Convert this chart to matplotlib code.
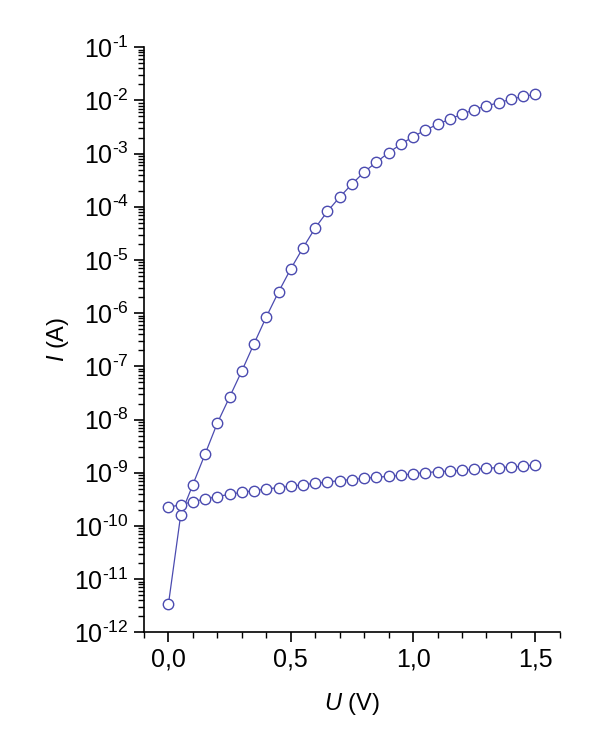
import matplotlib
matplotlib.use("Agg")
import matplotlib.pyplot as plt
import matplotlib.ticker as ticker
import numpy as np

plt.rcParams['font.family'] = ['Liberation Sans', 'DejaVu Sans']
plt.rcParams['mathtext.fontset'] = 'custom'
plt.rcParams['mathtext.rm'] = 'Liberation Sans'
plt.rcParams['mathtext.it'] = 'Liberation Sans:italic'
plt.rcParams['mathtext.default'] = 'regular'

# Data
voltage = [0.00, 0.05, 0.10, 0.15, 0.20, 0.25, 0.30, 0.35, 0.40, 0.45,
           0.50, 0.55, 0.60, 0.65, 0.70, 0.75, 0.80, 0.85, 0.90, 0.95,
           1.00, 1.05, 1.10, 1.15, 1.20, 1.25, 1.30, 1.35, 1.40, 1.45, 1.50]

current_forward = [3.4e-12, 1.6e-10, 6.0e-10, 2.26e-9, 8.6e-9, 2.65e-8, 8.2e-8, 2.67e-7,
                   8.5e-7, 2.5e-6, 6.8e-6, 1.69e-5, 4.0e-5, 8.2e-5, 1.52e-4, 2.67e-4,
                   4.5e-4, 6.9e-4, 1.04e-3, 1.5e-3, 2.08e-3, 2.77e-3, 3.54e-3, 4.45e-3,
                   5.5e-3, 6.7e-3, 7.9e-3, 9.05e-3, 1.05e-2, 1.19e-2, 1.3e-2]

current_reverse = [2.24e-10, 2.5e-10, 2.86e-10, 3.2e-10, 3.56e-10, 3.93e-10, 4.28e-10, 4.6e-10,
                   4.94e-10, 5.25e-10, 5.55e-10, 5.97e-10, 6.3e-10, 6.7e-10, 7.1e-10, 7.45e-10,
                   7.85e-10, 8.2e-10, 8.55e-10, 8.9e-10, 9.6e-10, 1.0e-9, 1.05e-9, 1.07e-9,
                   1.11e-9, 1.16e-9, 1.21e-9, 1.25e-9, 1.28e-9, 1.32e-9, 1.42e-9]

x_ticks = [0.0, 0.5, 1.0, 1.5]
x_tick_labels = ['0,0', '0,5', '1,0', '1,5']

color = '#4b4bb0'

fig = plt.figure(figsize=(6, 7.5), dpi=100)
ax = fig.add_axes([0.24, 0.157, 0.693, 0.78])

for series in (current_forward, current_reverse):
    ax.plot(voltage, series, color=color, lw=0.9, marker='o', ms=7.5,
            mfc='white', mec=color, mew=1.0)

ax.set_yscale('log')
ax.set_ylim(1e-12, 1e-1)
ax.set_xlim(-0.1, 1.6)


def log_label(v, pos):
    e = int(round(np.log10(v)))
    return '10$^{\u2010%d}$' % (-e)


ax.yaxis.set_major_locator(ticker.LogLocator(base=10, numticks=20))
ax.yaxis.set_major_formatter(ticker.FuncFormatter(log_label))
ax.yaxis.set_minor_locator(ticker.LogLocator(base=10, subs=np.arange(2, 10), numticks=20))
ax.yaxis.set_minor_formatter(ticker.NullFormatter())

ax.set_xticks(x_ticks)
ax.set_xticklabels(x_tick_labels)
ax.xaxis.set_minor_locator(ticker.MultipleLocator(0.1))

ax.spines['top'].set_visible(False)
ax.spines['right'].set_visible(False)
for s in ('left', 'bottom'):
    ax.spines[s].set_linewidth(1.2)

ax.tick_params(which='major', direction='out', length=7, width=1.2, labelsize=18, pad=4)
ax.tick_params(which='minor', direction='out', length=4, width=1.0)

ax.set_xlabel(r'$\mathit{U}$ (V)', fontsize=17, labelpad=14)
ax.set_ylabel(r'$\mathit{I}$ (A)', fontsize=17, labelpad=2)

fig.savefig('out.png', dpi=100)
